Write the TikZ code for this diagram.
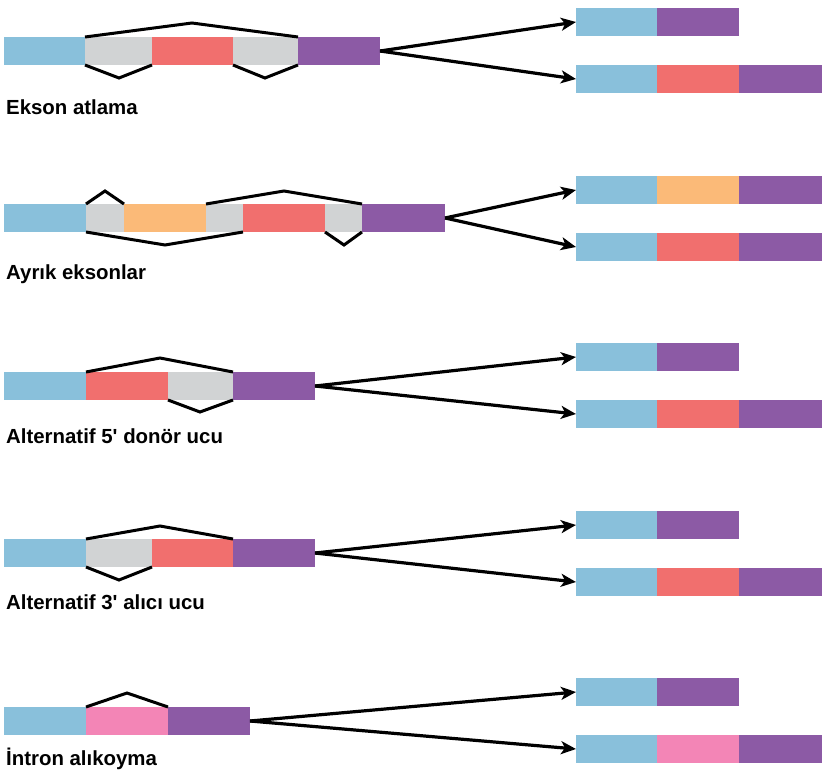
\documentclass[tikz,border=0pt]{standalone}
\usepackage{fontspec}
\setmainfont{Liberation Sans}
\usetikzlibrary{arrows.meta}
\definecolor{cblue}{HTML}{89C0DB}
\definecolor{cgray}{HTML}{D1D3D4}
\definecolor{cred}{HTML}{F16F6E}
\definecolor{cpurple}{HTML}{8C5AA5}
\definecolor{corange}{HTML}{FBBA78}
\definecolor{cpink}{HTML}{F385B6}
\tikzset{
  seg/.style={minimum height=28pt, inner sep=0pt, outer sep=0pt, anchor=north west, draw=none},
  splice/.style={line width=3pt, line join=miter},
  conn/.style={line width=3.2pt, -{Stealth[length=15pt,width=13pt,inset=4pt]}},
  lbl/.style={anchor=base west, inner sep=0pt, font=\bfseries\fontsize{20.4}{23}\selectfont}
}
\begin{document}
\begin{tikzpicture}[x=1pt,y=-1pt]
\useasboundingbox (0,0) rectangle (825,784);
% ---------- Row 1: Ekson atlama ----------
\node[seg, fill=cblue, minimum width=81] (a1) at (4,37) {};
\node[seg, fill=cgray, minimum width=67] (a2) at (85,37) {};
\node[seg, fill=cred, minimum width=81] (a3) at (152,37) {};
\node[seg, fill=cgray, minimum width=65] (a4) at (233,37) {};
\node[seg, fill=cpurple, minimum width=82] (a5) at (298,37) {};
\coordinate (ap1) at (192,23);
\coordinate (ap2) at (119,78);
\coordinate (ap3) at (265,78);
\draw[splice] (a2.north west) -- (ap1) -- (a4.north east);
\draw[splice] (a2.south west) -- (ap2) -- (a2.south east);
\draw[splice] (a4.south west) -- (ap3) -- (a4.south east);
\node[lbl] (la) at (6,114) {Ekson atlama};
\node[seg, fill=cblue, minimum width=81] (at1) at (576,8) {};
\node[seg, fill=cpurple, minimum width=82] (at2) at (657,8) {};
\node[seg, fill=cblue, minimum width=81] (ab1) at (576,65) {};
\node[seg, fill=cred, minimum width=82] (ab2) at (657,65) {};
\node[seg, fill=cpurple, minimum width=83] (ab3) at (739,65) {};
\draw[conn] (a5.east) -- (at1.west);
\draw[conn] (a5.east) -- (ab1.west);
% ---------- Row 2: Ayrik eksonlar ----------
\node[seg, fill=cblue, minimum width=82] (b1) at (4,204) {};
\node[seg, fill=cgray, minimum width=38] (b2) at (86,204) {};
\node[seg, fill=corange, minimum width=82] (b3) at (124,204) {};
\node[seg, fill=cgray, minimum width=37] (b4) at (206,204) {};
\node[seg, fill=cred, minimum width=82] (b5) at (243,204) {};
\node[seg, fill=cgray, minimum width=37] (b6) at (325,204) {};
\node[seg, fill=cpurple, minimum width=83] (b7) at (362,204) {};
\coordinate (bp1) at (105,191);
\coordinate (bp2) at (165,245);
\coordinate (bp3) at (284,191);
\coordinate (bp4) at (344,245);
\draw[splice] (b2.north west) -- (bp1) -- (b2.north east);
\draw[splice] (b2.south west) -- (bp2) -- (b4.south east);
\draw[splice] (b4.north west) -- (bp3) -- (b6.north east);
\draw[splice] (b6.south west) -- (bp4) -- (b6.south east);
\node[lbl] (lb) at (6,279) {Ayrık eksonlar};
\node[seg, fill=cblue, minimum width=81] (bt1) at (576,176) {};
\node[seg, fill=corange, minimum width=82] (bt2) at (657,176) {};
\node[seg, fill=cpurple, minimum width=83] (bt3) at (739,176) {};
\node[seg, fill=cblue, minimum width=81] (bb1) at (576,233) {};
\node[seg, fill=cred, minimum width=82] (bb2) at (657,233) {};
\node[seg, fill=cpurple, minimum width=83] (bb3) at (739,233) {};
\draw[conn] (b7.east) -- (bt1.west);
\draw[conn] (b7.east) -- (bb1.west);
% ---------- Row 3: Alternatif 5' donor ucu ----------
\node[seg, fill=cblue, minimum width=82] (c1) at (4,372) {};
\node[seg, fill=cred, minimum width=82] (c2) at (86,372) {};
\node[seg, fill=cgray, minimum width=65] (c3) at (168,372) {};
\node[seg, fill=cpurple, minimum width=82] (c4) at (233,372) {};
\coordinate (cp1) at (160,358);
\coordinate (cp2) at (200,412);
\draw[splice] (c2.north west) -- (cp1) -- (c3.north east);
\draw[splice] (c3.south west) -- (cp2) -- (c3.south east);
\node[lbl] (lc) at (6,443) {Alternatif 5\textquotesingle{} donör ucu};
\node[seg, fill=cblue, minimum width=81] (ct1) at (576,343) {};
\node[seg, fill=cpurple, minimum width=82] (ct2) at (657,343) {};
\node[seg, fill=cblue, minimum width=81] (cb1) at (576,400) {};
\node[seg, fill=cred, minimum width=82] (cb2) at (657,400) {};
\node[seg, fill=cpurple, minimum width=83] (cb3) at (739,400) {};
\draw[conn] (c4.east) -- (ct1.west);
\draw[conn] (c4.east) -- (cb1.west);
% ---------- Row 4: Alternatif 3' alici ucu ----------
\node[seg, fill=cblue, minimum width=82] (d1) at (4,539) {};
\node[seg, fill=cgray, minimum width=66] (d2) at (86,539) {};
\node[seg, fill=cred, minimum width=81] (d3) at (152,539) {};
\node[seg, fill=cpurple, minimum width=82] (d4) at (233,539) {};
\coordinate (dp1) at (160,526);
\coordinate (dp2) at (119,580);
\draw[splice] (d2.north west) -- (dp1) -- (d3.north east);
\draw[splice] (d2.south west) -- (dp2) -- (d2.south east);
\node[lbl] (ld) at (6,609) {Alternatif 3\textquotesingle{} alıcı ucu};
\node[seg, fill=cblue, minimum width=81] (dt1) at (576,511) {};
\node[seg, fill=cpurple, minimum width=82] (dt2) at (657,511) {};
\node[seg, fill=cblue, minimum width=81] (db1) at (576,568) {};
\node[seg, fill=cred, minimum width=82] (db2) at (657,568) {};
\node[seg, fill=cpurple, minimum width=83] (db3) at (739,568) {};
\draw[conn] (d4.east) -- (dt1.west);
\draw[conn] (d4.east) -- (db1.west);
% ---------- Row 5: Intron alikoyma ----------
\node[seg, fill=cblue, minimum width=82] (e1) at (4,707) {};
\node[seg, fill=cpink, minimum width=82] (e2) at (86,707) {};
\node[seg, fill=cpurple, minimum width=82] (e3) at (168,707) {};
\coordinate (ep1) at (127,693);
\draw[splice] (e2.north west) -- (ep1) -- (e2.north east);
\node[lbl] (le) at (6,765) {İntron alıkoyma};
\node[seg, fill=cblue, minimum width=81] (et1) at (576,678) {};
\node[seg, fill=cpurple, minimum width=82] (et2) at (657,678) {};
\node[seg, fill=cblue, minimum width=81] (eb1) at (576,735) {};
\node[seg, fill=cpink, minimum width=82] (eb2) at (657,735) {};
\node[seg, fill=cpurple, minimum width=83] (eb3) at (739,735) {};
\draw[conn] (e3.east) -- (et1.west);
\draw[conn] (e3.east) -- (eb1.west);
\end{tikzpicture}
\end{document}
